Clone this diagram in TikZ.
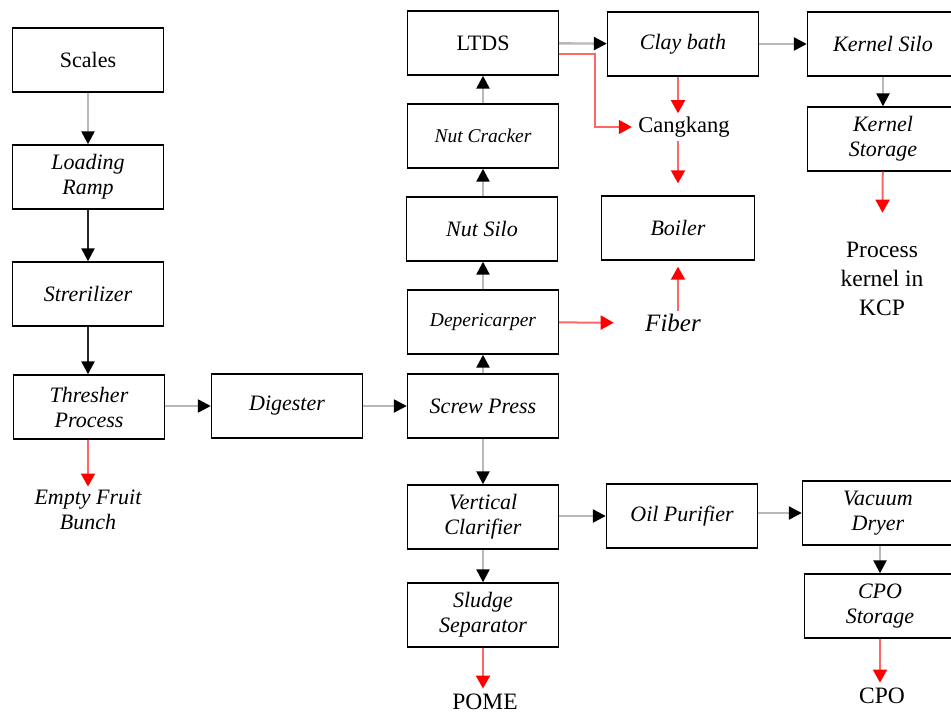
\documentclass[tikz,border=0pt]{standalone}
\usepackage{fontspec}
\setmainfont{Liberation Serif}
\usetikzlibrary{arrows.meta}

\begin{document}
\begin{tikzpicture}[
x=1pt, y=-1pt,
unit/.style={draw, line width=1.4pt, minimum width=151pt, minimum height=64pt, align=center, font=\fontsize{22}{25}\selectfont\itshape},
smallunit/.style={unit, font=\fontsize{19.5}{23}\selectfont\itshape},
product/.style={align=center, font=\fontsize{23.5}{29}\selectfont},
waste/.style={align=center, font=\fontsize{22}{25}\selectfont\itshape},
flow/.style={-{Triangle[length=13pt,width=13pt,color=black]}, line width=2.4pt, gray!55},
darkflow/.style={flow, black!85},
redflow/.style={-{Triangle[length=13pt,width=14pt,color=red]}, line width=2pt, red!60},
]
    \useasboundingbox (0,0) rectangle (951,713);
    \clip (0,0) rectangle (951,713);
    % receiving line
    \node[unit](scales) at (88,60) {\upshape Scales};
    \node[unit](ramp) at (88,177) {Loading\\Ramp};
    \node[unit](steril) at (88,294) {Strerilizer};
    \node[unit](thresher) at (89,407) {Thresher\\Process};
    \node[waste](efb) at (88,510) {Empty Fruit\\Bunch};
    \node[unit](digester) at (287,406) {Digester};
    \node[unit](press) at (483,406) {Screw Press};
    % nut and kernel line
    \node[smallunit](deperi) at (483,322) {Depericarper};
    \node[unit](nutsilo) at (482,229) {Nut Silo};
    \node[smallunit](cracker) at (483,136) {Nut Cracker};
    \node[unit](ltds) at (483,43) {\upshape LTDS};
    \node[unit](claybath) at (683,44) {Clay bath};
    \node[product, font=\fontsize{22.5}{26}\selectfont](cangkang) at (684,127) {Cangkang};
    \node[unit, minimum width=153pt](boiler) at (678,228) {Boiler};
    \node[waste, font=\fontsize{25}{28}\selectfont\itshape](fiber) at (673,323) {Fiber};
    \node[unit](kernelsilo) at (883,44) {Kernel Silo};
    \node[unit](kernelstore) at (883,139) {Kernel\\Storage};
    \node[product](kcp) at (882,279) {Process\\kernel in\\KCP};
    % oil line
    \node[unit](clarifier) at (483,517) {Vertical\\Clarifier};
    \node[unit](sludge) at (483,615) {Sludge\\Separator};
    \node[product](pome) at (485,702) {POME};
    \node[unit](purifier) at (682,516) {Oil Purifier};
    \node[unit](dryer) at (878,513) {Vacuum\\Dryer};
    \node[unit](cpostore) at (880,606) {CPO\\Storage};
    \node[product](cpo) at (882,696) {CPO};
    \coordinate (bend) at (595,90);

    \draw[flow] (scales) -- (ramp);
    \draw[darkflow] (ramp) -- (steril);
    \draw[darkflow] (steril) -- (steril.south |- thresher.north);
    \draw[flow] (thresher.east |- digester) -- (digester);
    \draw[redflow] (thresher.south -| efb) -- (efb);
    \draw[flow] (digester) -- (press);
    \draw[flow] (press) -- (deperi);
    \draw[flow] (deperi) -- (deperi.north |- nutsilo.south);
    \draw[flow] (nutsilo.north -| cracker) -- (cracker);
    \draw[flow] (cracker) -- (ltds);
    \draw[flow] (ltds) -- (claybath);
    \draw[redflow, line width=1.6pt] ([yshift=-11pt]ltds.east) -| (bend) |- ([xshift=-3pt]cangkang.west);
    \draw[redflow] (claybath.south -| boiler) -- (cangkang.north -| boiler);
    \draw[redflow, shorten >=12pt] (cangkang.south -| boiler) -- (boiler);
    \draw[redflow, shorten >=28pt] (deperi) -- (fiber);
    \draw[redflow, shorten >=6pt] (fiber.north -| boiler) -- (boiler);
    \draw[flow] (claybath) -- (kernelsilo);
    \draw[flow] (kernelsilo) -- (kernelstore);
    \draw[redflow, shorten >=26pt] (kernelstore) -- (kcp);
    \draw[flow] (press) -- (clarifier);
    \draw[flow] (clarifier) -- (sludge);
    \draw[redflow, shorten >=2pt] (sludge) -- (sludge.south |- pome.north);
    \draw[flow] (clarifier.east |- purifier) -- (purifier);
    \draw[flow] (purifier.east |- dryer) -- (dryer);
    \draw[flow] (dryer.south -| cpostore) -- (cpostore);
    \draw[redflow, shorten >=2pt] (cpostore) -- (cpostore.south |- cpo.north);
\end{tikzpicture}
\end{document}
